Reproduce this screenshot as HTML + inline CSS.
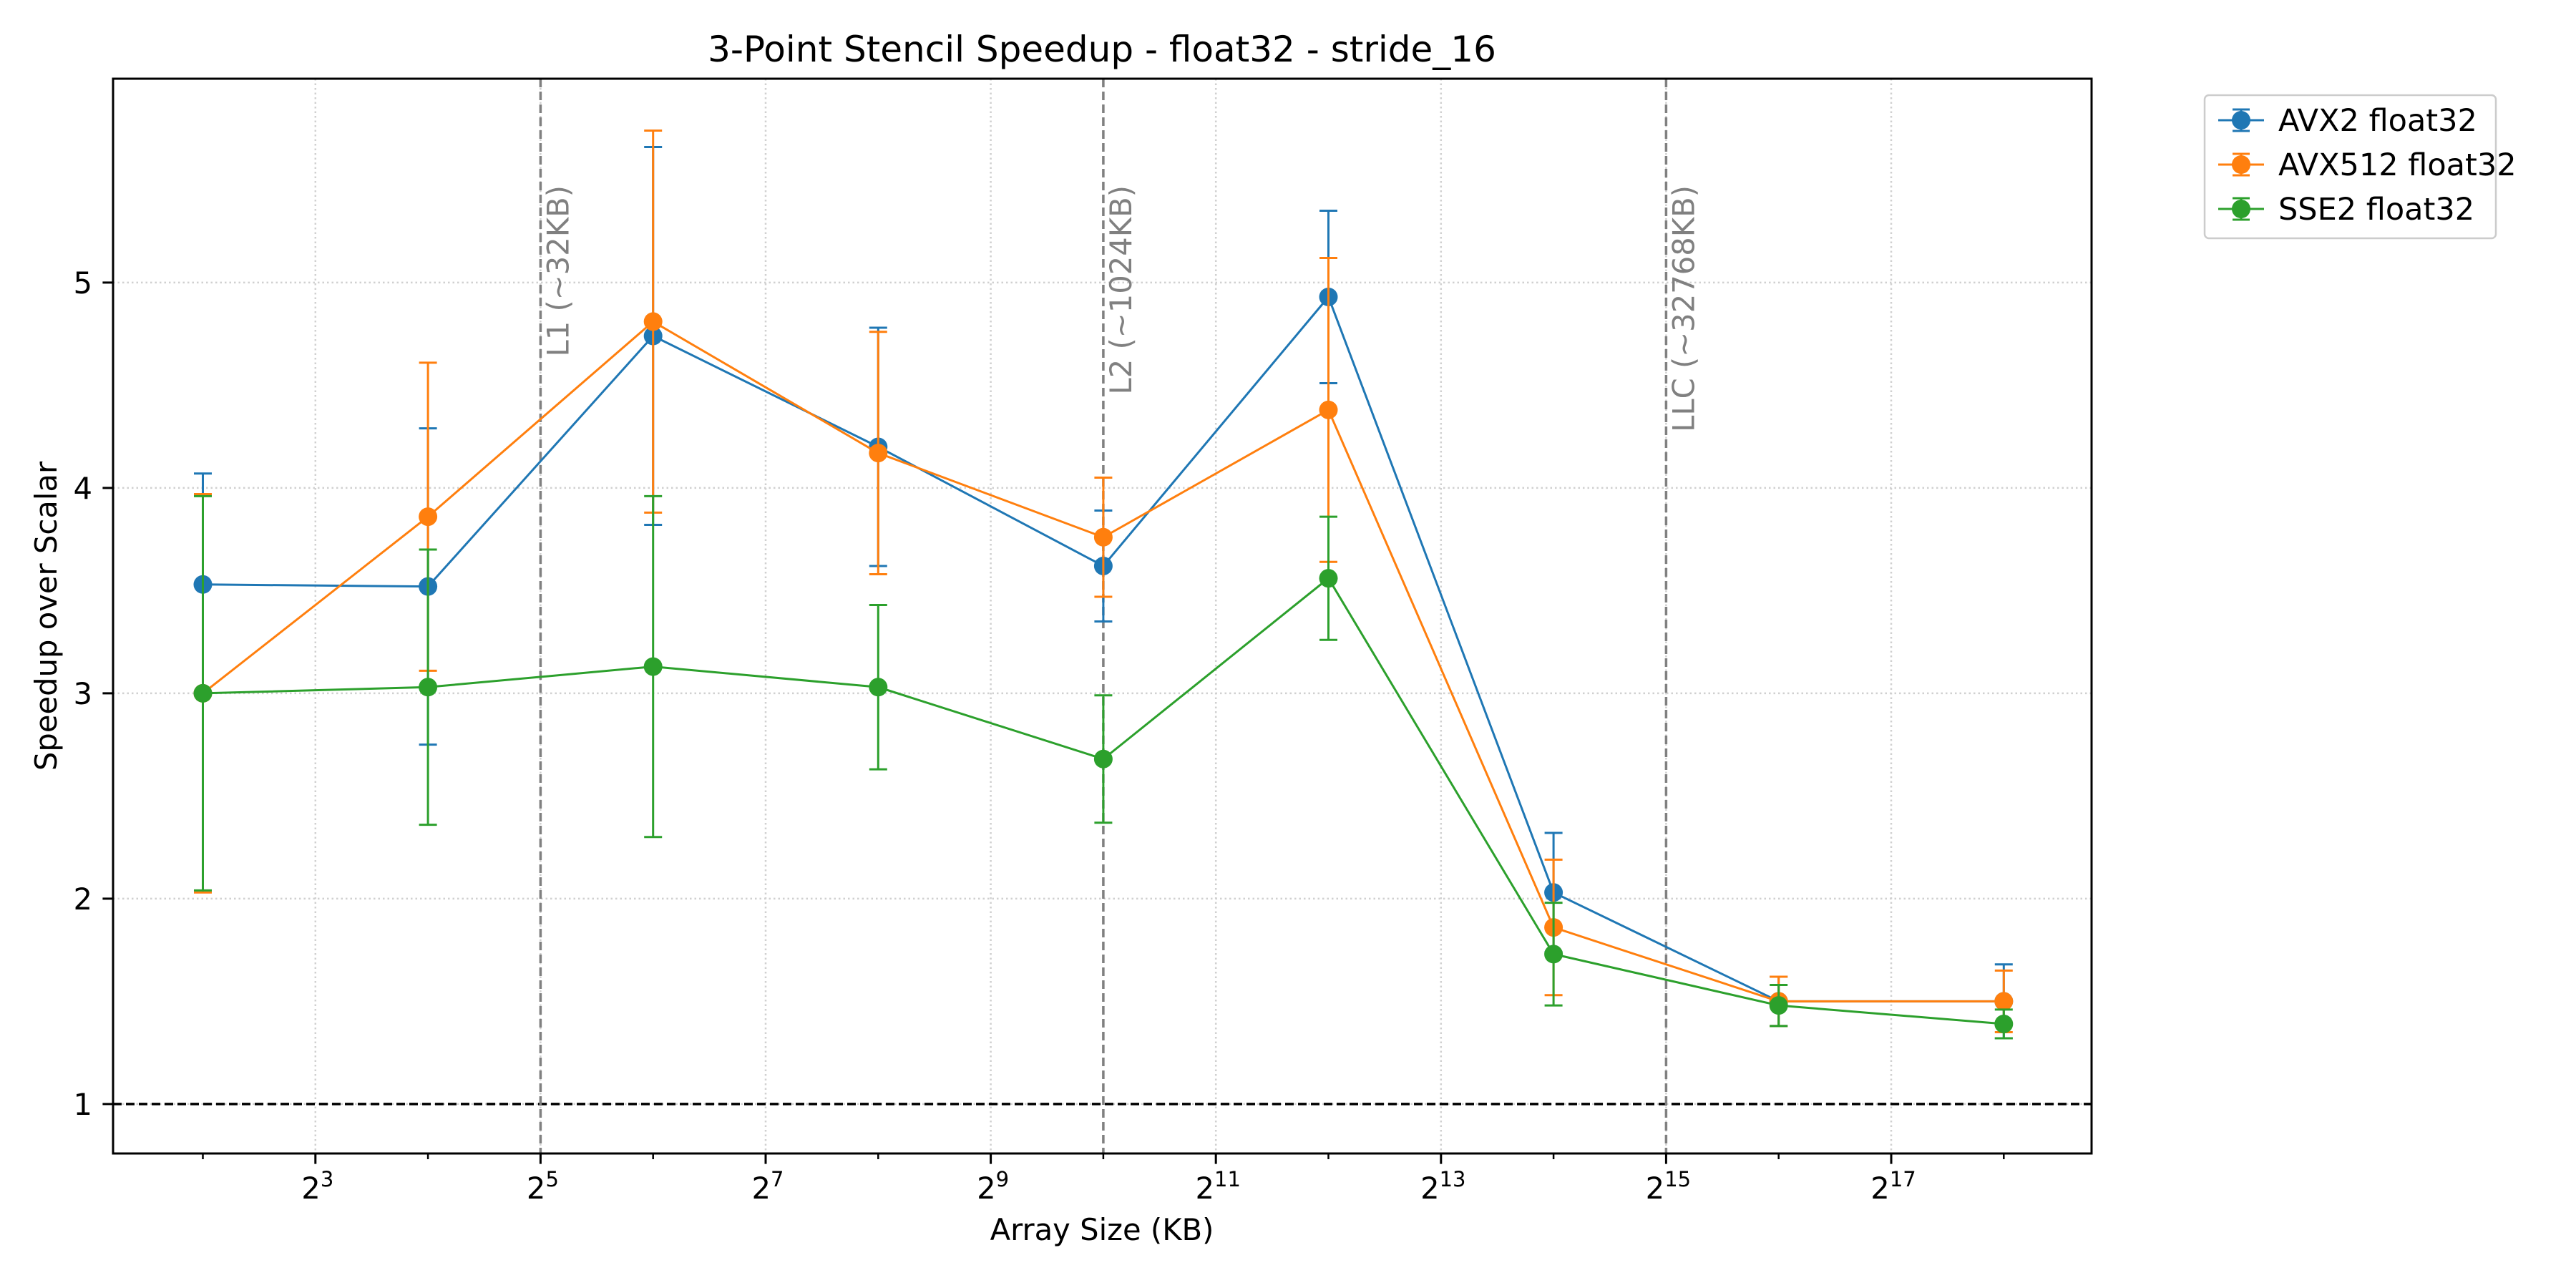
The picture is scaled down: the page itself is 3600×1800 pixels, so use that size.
<!DOCTYPE html>
<html><head><meta charset="utf-8"><style>
html,body{margin:0;padding:0;background:#fff;}
svg{display:block;font-family:"DejaVu Sans","Liberation Sans",sans-serif;}
</style></head><body>
<svg id="chart" width="3600" height="1800" viewBox="0 0 3600 1800" xmlns="http://www.w3.org/2000/svg">
<rect x="0" y="0" width="3600" height="1800" fill="#fff"/>
<g id="grid"></g>
<g id="refs"></g>
<g id="series"></g>
<rect x="158" y="110" width="2765" height="1502" fill="none" stroke="#000" stroke-width="3"/>
<g id="axes"></g>
<text x="1540" y="86" font-size="50" text-anchor="middle">3-Point Stencil Speedup - float32 - stride_16</text>
<text x="1540" y="1733" font-size="41.7" text-anchor="middle">Array Size (KB)</text>
<text transform="translate(79,861) rotate(-90)" font-size="41.7" text-anchor="middle">Speedup over Scalar</text>
<g id="legend"></g>
</svg>
<script>
const exps=[2,4,6,8,10,12,14,16,18];
const seriesNames=["AVX2 float32","AVX512 float32","SSE2 float32"];
const colors=["#1f77b4","#ff7f0e","#2ca02c"];
const avx2=[3.53,3.52,4.74,4.20,3.62,4.93,2.03,1.50,1.50];
const avx2Err=[0.54,0.77,0.92,0.58,0.27,0.42,0.29,0.12,0.18];
const avx512=[3.00,3.86,4.81,4.17,3.76,4.38,1.86,1.50,1.50];
const avx512Err=[0.97,0.75,0.93,0.59,0.29,0.74,0.33,0.12,0.15];
const sse2=[3.00,3.03,3.13,3.03,2.68,3.56,1.73,1.48,1.39];
const sse2Err=[0.96,0.67,0.83,0.40,0.31,0.30,0.25,0.10,0.07];
const xTickExps=[3,5,7,9,11,13,15,17];
const yTicks=[1,2,3,4,5];
const cacheExps=[5,10,15];
const cacheLabels=["L1 (~32KB)","L2 (~1024KB)","LLC (~32768KB)"];

const NS="http://www.w3.org/2000/svg";
const L=158,R=2923,T=110,B=1612;
const X=e=>440.8+(e-3)*157.3;
const Y=v=>1542.9-(v-1)*287;
function mk(tag,attrs,parent){const el=document.createElementNS(NS,tag);for(const k in attrs)el.setAttribute(k,attrs[k]);parent.appendChild(el);return el;}
const grid=document.getElementById('grid'),axes=document.getElementById('axes'),refs=document.getElementById('refs'),ser=document.getElementById('series'),leg=document.getElementById('legend');

xTickExps.forEach(e=>{
 const g=mk('line',{x1:X(e),x2:X(e),y1:T,y2:B,stroke:'#d0d0d0','stroke-width':2.5,'stroke-dasharray':'2.5,4'},grid);
 
 const t=mk('line',{x1:X(e),x2:X(e),y1:B,y2:B+14.6,stroke:'#000','stroke-width':3},axes);
 
 const tx=mk('text',{x:X(e)+3,y:B+63,'font-size':41.7,'text-anchor':'middle'},axes);
 
 tx.innerHTML='2<tspan font-size="29" dy="-17">'+e+'</tspan>';
});
for(let e=2;e<=18;e++){
 const m=mk('line',{x1:X(e),x2:X(e),y1:B,y2:B+8,stroke:'#000','stroke-width':2.5},axes);
 
}
yTicks.forEach(v=>{
 const g=mk('line',{x1:L,x2:R,y1:Y(v),y2:Y(v),stroke:'#d0d0d0','stroke-width':2.5,'stroke-dasharray':'2.5,4'},grid);
 
 const t=mk('line',{x1:L-14.6,x2:L,y1:Y(v),y2:Y(v),stroke:'#000','stroke-width':3},axes);
 
 const tx=mk('text',{x:L-29,y:Y(v)+15,'font-size':41.7,'text-anchor':'end'},axes);
 
 tx.textContent=v;
});
const base=mk('line',{x1:L,x2:R,y1:Y(1),y2:Y(1),stroke:'#000','stroke-width':3.5,'stroke-dasharray':'12,6'},refs);

cacheExps.forEach((e,i)=>{
 const l=mk('line',{x1:X(e),x2:X(e),y1:T,y2:B,stroke:'#808080','stroke-width':3.5,'stroke-dasharray':'12,6'},refs);
 
 const t=mk('text',{transform:`translate(${X(e)+39},${259}) rotate(-90)`,'font-size':41.7,fill:'#808080','text-anchor':'end'},refs);
 
 t.textContent=cacheLabels[i];
});
const vals=[avx2,avx512,sse2],errs=[avx2Err,avx512Err,sse2Err];
vals.forEach((vs,si)=>{
 const c=colors[si];
 const g=mk('g',{},ser);
 vs.forEach((v,i)=>{
  const x=X(exps[i]),e=errs[si][i];
  const eb=mk('path',{d:`M${x},${Y(v-e)}V${Y(v+e)}M${x-12.5},${Y(v-e)}H${x+12.5}M${x-12.5},${Y(v+e)}H${x+12.5}`,stroke:c,'stroke-width':3,fill:'none'},g);
  
 });
 const pl=mk('polyline',{points:vs.map((v,i)=>X(exps[i])+','+Y(v)).join(' '),fill:'none',stroke:c,'stroke-width':3},g);
 
 vs.forEach((v,i)=>{
  const p=mk('circle',{cx:X(exps[i]),cy:Y(v),r:13,fill:c},g);
  
 });
});
const box=mk('rect',{x:3081,y:133,width:407,height:200,rx:6,fill:'#fff',stroke:'#ccc','stroke-width':2.5},leg);

seriesNames.forEach((n,i)=>{
 const y=168+i*62,c=colors[i];
 const g=mk('g',{},leg);
 mk('path',{d:`M3100,${y}H3164M3132,${y-15}V${y+15}M3120,${y-15}H3144M3120,${y+15}H3144`,stroke:c,'stroke-width':3,fill:'none'},g);
 mk('circle',{cx:3132,cy:y,r:13,fill:c},g);
 const t=mk('text',{x:3184,y:y+15,'font-size':43},g);t.textContent=n;
});
</script>
</body></html>
